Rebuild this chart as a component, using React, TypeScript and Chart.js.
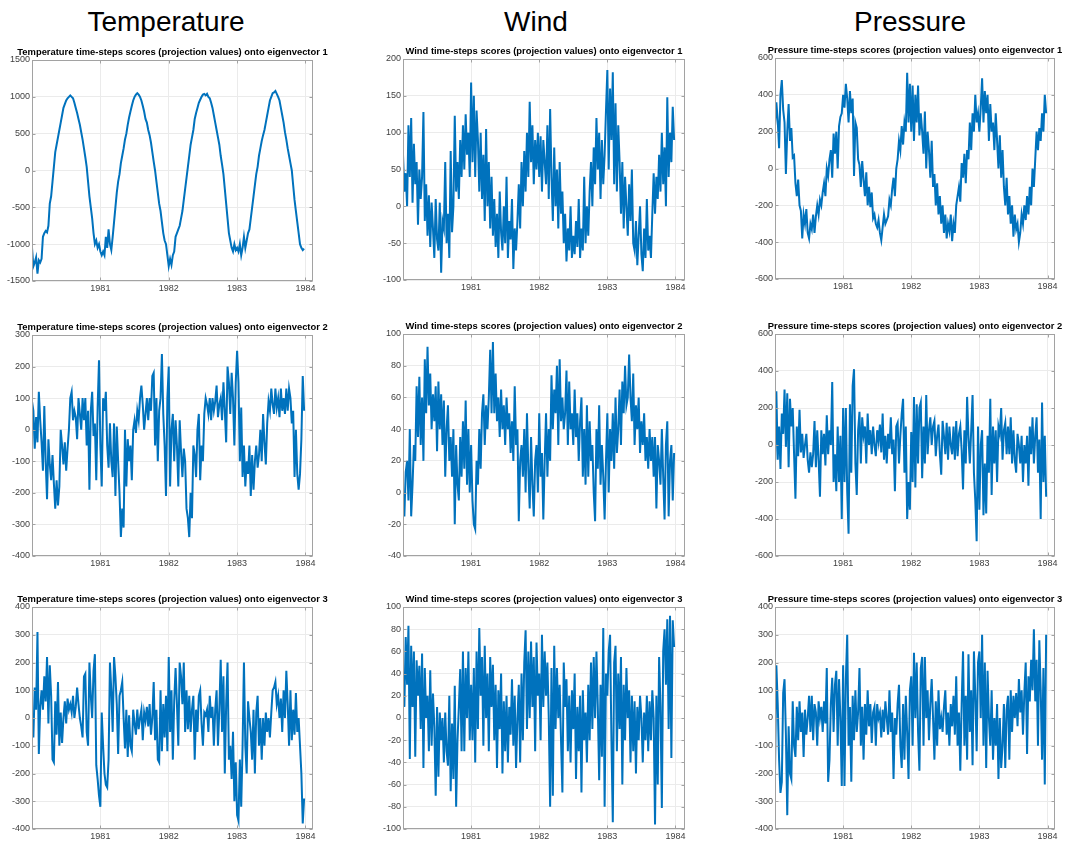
import React, { useEffect, useRef } from "react";
import { Chart, registerables } from "chart.js";

Chart.register(...registerables);

// ---------- data ----------
const START_YEAR = 1980;
const SAMPLES_PER_YEAR = 50;
const YEAR_TICKS = [1981, 1982, 1983, 1984];
const COLUMN_TITLES = ["Temperature", "Wind", "Pressure"];

const temperatureEv1 = [
  -1050, -1300, -1250, -1180, -1400, -1220, -1250, -1200, -900, -850, -820, -840, -750, -450, -350, -150, 50, 250, 350, 450, 550, 650, 750, 850, 900, 950, 980, 1000, 1020, 1000, 980, 920, 850, 780, 700, 620, 520, 420, 300, 180, 50, -150, -350, -500, -650, -850, -1000, -950, -1050, -1000,
  -1100, -1150, -1100, -1150, -900, -1050, -800, -1000, -1080, -900, -700, -500, -300, -150, -50, 100, 200, 300, 420, 500, 620, 720, 800, 880, 950, 1000, 1030, 1050, 1030, 1000, 950, 880, 800, 700, 650, 550, 480, 380, 250, 120, 0, -150, -300, -450, -550, -700, -850, -950, -1000, -1150,
  -1300, -1200, -1280, -1150, -1100, -900, -850, -800, -750, -650, -550, -400, -250, -100, 50, 200, 350, 450, 550, 700, 780, 850, 920, 960, 1000, 1030, 1040, 1020, 1040, 1000, 980, 920, 850, 750, 650, 550, 450, 350, 200, 80, -50, -250, -450, -650, -850, -950, -1050, -1100, -1000, -1080,
  -1050, -1100, -1000, -1150, -1050, -900, -1050, -950, -850, -800, -650, -500, -350, -200, -50, 50, 200, 300, 400, 480, 550, 650, 750, 850, 950, 1000, 1050, 1060, 1080, 1040, 1000, 950, 850, 750, 650, 520, 420, 300, 200, 100, 0, -200, -400, -550, -700, -850, -1000, -1050, -1080, -1060,
];

const windEv1 = [
  70, 20, 45, 0, 110, 40, 120, 5, 85, 30, 60, -25, 50, 10, 40, 128, -20, 30, -40, 15, -55, 5, -30, -70, 10, -45, -60, 5, -90, -20, -30, 60, -50, -10, -70, 75, -35, 0, 123, 20, 60, 10, 90, 40, 110, 50, 125, 70, 100, 40,
  168, 60, 150, 40, 130, 90, 20, 100, 10, 70, -20, 105, 0, 60, -30, 40, -40, 10, -55, -10, -70, 20, -35, -60, 0, -50, 40, -70, -20, -45, 10, -85, -30, -60, -20, 30, -30, 60, 0, 75, 20, 100, 40, 142, 60, 110, 30, 90, 50, 100,
  40, 95, 20, 90, 60, 30, 110, 10, 132, 40, -20, 80, 0, 50, -30, 60, -10, 20, -50, -10, -75, -30, -60, 0, -70, -40, -65, -20, -55, 10, -70, -30, -60, 40, -50, 0, -40, 20, 60, 0, 80, 30, 120, 50, 100, 10, 90, 30, 70, 130,
  185, 50, 160, 90, 182, 30, 140, 20, 110, 60, -10, 60, -30, 40, 0, -40, 30, -20, 50, -50, -60, -20, -80, -40, 0, -65, -88, -30, -70, 10, -60, -40, -70, -10, 45, -10, 40, 10, 70, 20, 100, 30, 80, 0, 148, 40, 100, 60, 135, 90,
];

const pressureEv1 = [
  230, 360, 260, 110, 400, 480, 320, 250, -30, 200, 350, 150, 220, 60, 70, -80, -150, -60, -200, -230, -380, -250, -300, -220, -350, -380, -300, -330, -250, -350, -260, -200, -250, -170, -200, -130, -80, -150, 0, -40, 50, 100, -50, 190, 80, 200, 0, 230, 280, 300,
  400, 330, 460, 380, 250, 420, 300, 380, -40, 250, 220, 50, 20, -100, 40, -60, -150, -20, -200, -100, -210, -130, -270, -250, -300, -320, -280, -350, -390, -320, -250, -300, -280, -260, -170, -200, -110, -50, -150, 0, 50, 150, 100, 230, 130, 250, 200, 520, 250, 460,
  200, 450, 150, 400, 250, 450, 180, 300, 200, 80, 310, 0, 200, 100, -50, 150, -100, -30, -200, -80, -250, -150, -300, -200, -350, -250, -380, -300, -340, -250, -395, -300, -350, -200, -150, -100, -180, 30, -50, 80, -80, 100, 50, 250, 100, 300, 200, 400, 250, 300,
  200, 330, 490, 250, 420, 300, 400, 150, 350, 200, 250, 100, 300, 150, 0, 180, -50, 100, -100, -200, -50, -250, -150, -300, -200, -370, -250, -330, -300, -400, -350, -250, -300, -200, -280, -150, -250, -100, -200, 0, -100, 50, 200, 100, 220, 150, 300, 200, 400, 300,
];

const temperatureEv2 = [
  90, 60, -60, 40, -40, 120, 30, -40, -130, 75, -100, -220, -30, -110, -160, -80, -170, -250, -160, -240, -180, 0, -50, -110, -40, -130, -60, 0, 100, 120, 30, 60, 40, -30, 100, 50, 0, 100, 30, 100, -50, 60, -190, 60, 120, -20, 20, -160, 70, 220,
  -50, -180, 100, 60, 120, -50, -120, 20, -100, -150, 20, -210, 10, -100, -200, -340, -250, -310, 0, -180, -30, -100, -50, -160, 0, 30, -10, 60, 30, 100, 140, 80, 0, 50, 100, 30, 100, 60, 170, 180, -50, 100, -100, 60, 100, 240, 50, -50, -210, 100,
  200, -180, 0, 50, -100, 30, -50, -180, 30, -70, -150, -60, -100, -250, -280, -340, -200, -280, -50, -80, -150, 0, 50, -160, -50, -100, 50, 100, 80, 50, 100, 30, 100, 60, 90, 140, 40, 80, 100, 30, 150, 60, -40, 200, 150, 50, 180, 100, -50, 150,
  250, 150, -100, 70, -150, -50, -180, -100, -140, -50, -210, -80, -190, -100, -50, -120, -80, 0, -100, 50, -40, -110, 20, 90, 60, 130, 80, 50, 130, 70, 100, 40, 130, 60, 100, 50, 130, 60, 130, 100, 20, 60, -150, 0, -140, -190, -140, -30, 170, 60,
];

const windEv2 = [
  0, -15, 13, 20, -5, 40, -15, 5, 30, 20, 67, 35, 73, 30, 60, 20, 84, 50, 92, 55, 75, 40, 62, 45, 67, 26, 70, 40, 62, 30, 58, 10, 40, 55, 20, 35, 10, 40, -20, 30, 5, -5, 35, 10, 45, 15, 58, 5, 40, 0,
  30, -5, -20, -23, 20, 5, 40, 15, 50, 62, 30, 55, 40, 60, 90, 50, 95, 50, 75, 45, 60, 35, 65, 40, 55, 30, 60, 40, 50, 25, 45, 20, 67, 30, 40, -18, 20, 30, 10, 40, 0, 50, 15, -10, 35, 5, -15, 20, 30, 0,
  50, 10, 25, -17, 20, 50, 10, 40, 20, 74, 40, 65, 50, 80, 30, 84, 45, 60, 40, 50, 77, 30, 70, 40, 50, 30, 65, 35, 50, 20, 45, 60, 10, 40, 5, 55, 10, 45, 20, 30, 0, -18, 40, 15, 55, 5, 30, 10, -17, 20,
  50, 0, 40, 20, 50, 15, 60, 25, 40, 65, 30, 70, 50, 80, 55, 60, 87, 60, 45, 75, 30, 55, 40, 60, 25, 45, 30, 50, 20, 35, 15, 40, 20, 35, 10, 35, -10, 30, 20, 5, 40, 10, -17, 30, 45, -15, 20, 30, -5, 25,
];

const pressureEv2 = [
  -100, 290, -80, 100, -130, 170, 60, 300, -10, 280, -120, 250, 100, 200, -50, -290, 100, -60, 190, -40, 60, -70, 0, 60, -80, -150, -40, -120, -50, 130, -120, 80, -80, -280, 80, -50, 60, -110, 160, -50, 80, 0, 340, -200, -50, -250, 100, -200, 50, -400,
  200, -200, 200, -250, -480, 220, -150, 320, 410, -100, -270, 80, 180, -100, 150, 50, 100, -100, 170, 0, 80, -50, 100, 0, -60, 80, 20, 110, -40, 170, -80, 50, -100, 60, -20, 150, -50, 30, -250, 100, 120, -100, 50, 170, 250, -150, 100, -400, -200, -350,
  70, -200, 260, -230, 220, -100, 200, 230, -180, 100, -100, 270, -50, 80, 150, 0, 100, 130, -60, 50, 110, -50, -160, 130, 50, -50, 120, -80, 100, 0, -50, 100, -80, 130, -60, 60, 100, -30, -240, 80, -100, 260, 40, -100, 80, 270, -150, -300, -520, 100,
  -350, 0, 80, -380, -100, -370, 50, -150, 250, -270, 100, -100, 80, -200, 100, 60, 200, -80, 80, 120, -50, 100, -50, 150, -100, 80, -80, -150, 60, 0, -100, 50, -200, 0, -100, 50, -220, 100, -50, 150, -100, 50, 150, -150, 30, -400, 230, -200, 50, -280,
];

const temperatureEv3 = [
  0, -70, 110, 30, 310, -130, 40, 100, 30, 150, 60, 220, -20, 190, 80, -150, -160, 60, -60, 130, -100, 20, -90, 0, 60, -20, 70, 30, 50, 20, 80, 0, 40, 110, 50, 0, -30, -70, 150, 160, -50, -100, 200, 80, 0, 170, 230, -170, -220, -280,
  -320, 20, -100, -200, -240, -250, -150, 200, 100, -50, 220, 150, 50, -130, 80, 100, 130, 0, -110, 30, -140, 10, -100, -120, 30, -20, -60, 30, -40, 0, 30, -80, 20, -10, 40, -30, 50, -60, 0, 130, -80, 30, -150, -160, 100, -120, 50, -70, 80, -120,
  220, -50, 100, -150, 60, 180, 50, -100, 200, 150, 50, 200, -50, 100, -40, 80, -50, 30, 80, -150, 30, -50, 80, 100, -20, -100, 20, 10, 30, -50, 80, 0, 40, -100, 30, 100, -100, 30, 210, -50, 150, -200, 50, 200, -150, -100, -220, -50, -300, -160,
  -350, -370, -150, -320, -100, 200, -100, -200, 60, 0, -50, -150, 30, -200, 20, 80, -100, 0, -150, 0, -100, 20, -50, 0, -70, 20, 100, 110, 130, 50, 80, 0, 70, -50, 100, 0, 170, 50, -100, 100, -80, 30, -60, 90, -50, 0, -100, -200, -380, -290,
];

const windEv3 = [
  40, 10, 73, 30, 83, -37, 65, 10, 60, -35, 52, 20, 47, -10, 58, -45, 45, 0, 20, -30, 43, -25, 22, -8, -70, 10, -53, 5, -20, 0, -40, 5, -30, -43, 20, -66, -5, -55, 29, -80, -20, 10, 44, -30, 60, -30, 45, 0, 60, -20,
  30, -20, 45, -40, 60, -10, 81, 20, 55, -25, 65, 0, 40, -30, 55, 10, 48, -20, 30, -45, 25, -10, 40, -50, 15, -30, 20, -40, 10, -15, 35, -25, 20, -45, 0, 30, -40, 40, -20, 50, 79, -10, 60, 0, 69, 10, 55, -30, 68, 20,
  40, -20, 75, 10, 60, 20, 50, 0, -80, 45, -70, 65, -10, 45, 0, 30, -20, -67, 50, 10, 35, -30, 20, -40, 25, -10, 40, -55, 10, -30, 20, -67, 25, -20, 5, -40, 30, -20, 50, -10, 55, 0, 60, 10, -56, 30, -35, 81, -80, 40,
  20, 60, 75, -20, -94, 50, 65, -30, 40, -10, 55, -60, 30, -20, 45, 0, 25, -40, 20, -30, 15, -50, 10, -20, 20, 0, -40, 5, -20, 20, -30, 15, -20, 25, 0, -96, 20, -60, 55, 10, -81, 60, 80, 30, 89, -10, 92, -36, 88, 64,
];

const pressureEv3 = [
  -200, 190, 50, -150, -270, -230, 90, 140, -60, -350, -30, -200, -220, 60, -100, -140, 40, -80, 60, -50, 20, -140, 30, -60, 0, 80, -50, 80, -80, 50, 20, -100, 60, 0, 40, -50, 60, -20, 180, -230, -150, 50, 145, -50, 120, 170, -100, 140, 0, -245,
  190, -245, 140, 300, -100, 40, -230, 80, -80, 100, -50, 20, 180, -100, 40, -150, 50, -60, 100, -30, 50, -90, 20, 40, -100, 50, 0, 20, -70, 30, -50, 60, 0, -60, 100, -50, 20, -220, 0, -60, 50, 120, -100, -180, 50, -150, 80, -50, -220, 100,
  150, -100, 235, 0, 200, -50, -190, 180, 220, -100, 220, 0, 100, -80, 50, 140, 0, -150, 60, -100, 100, -40, 0, -50, 40, 100, -60, 20, -100, 50, -30, 80, -60, 150, -100, 20, -190, 50, 240, -100, 80, -150, 230, -50, 100, -170, 240, 80, -120, 200,
  240, 0, 300, -100, 200, -180, 170, 0, -100, 100, -150, 0, -100, 50, -220, 0, -180, -100, 50, -180, 30, 80, -150, 100, -50, 80, 0, 90, -30, 140, 20, 100, -60, 90, 200, -130, 150, 60, 210, 100, 320, 60, 210, -100, 280, 100, -150, 180, -240, 300,
];

// ---------- styling / layout ----------
const LINE_COLOR = "#0072BD";
const GRID_COLOR = "#ebebeb";
const FRAME_COLOR = "#a2a2a2";
const TICK_TEXT = "#404040";
const FONT = "'Liberation Sans', Arial, Helvetica, sans-serif";
const PAD_L = 30;
const PAD_R = 30;
const PAD_T = 20;
const PAD_B = 20;
const TITLE_SIZE = 9.4;

type PanelSpec = {
  title: string;
  values: number[];
  yMin: number;
  yMax: number;
  yStep: number;
  xMax: number;
  left: number;
  top: number;
  right: number;
  bottom: number;
};

const titleOf = (name: string, k: number) =>
  `${name} time-steps scores (projection values) onto eigenvector ${k}`;

const PANELS: PanelSpec[] = [
  { title: titleOf("Temperature", 1), values: temperatureEv1, yMin: -1500, yMax: 1500, yStep: 500, xMax: 1984.11, left: 32, top: 60, right: 313, bottom: 281 },
  { title: titleOf("Wind", 1), values: windEv1, yMin: -100, yMax: 200, yStep: 50, xMax: 1984.14, left: 403, top: 59, right: 685, bottom: 280 },
  { title: titleOf("Pressure", 1), values: pressureEv1, yMin: -600, yMax: 600, yStep: 200, xMax: 1984.11, left: 775, top: 58, right: 1055, bottom: 279 },
  { title: titleOf("Temperature", 2), values: temperatureEv2, yMin: -400, yMax: 300, yStep: 100, xMax: 1984.11, left: 32, top: 335, right: 313, bottom: 556 },
  { title: titleOf("Wind", 2), values: windEv2, yMin: -40, yMax: 100, yStep: 20, xMax: 1984.14, left: 403, top: 334, right: 685, bottom: 556 },
  { title: titleOf("Pressure", 2), values: pressureEv2, yMin: -600, yMax: 600, yStep: 200, xMax: 1984.11, left: 775, top: 334, right: 1055, bottom: 556 },
  { title: titleOf("Temperature", 3), values: temperatureEv3, yMin: -400, yMax: 400, yStep: 100, xMax: 1984.11, left: 32, top: 607, right: 313, bottom: 829 },
  { title: titleOf("Wind", 3), values: windEv3, yMin: -100, yMax: 100, yStep: 20, xMax: 1984.14, left: 403, top: 607, right: 685, bottom: 829 },
  { title: titleOf("Pressure", 3), values: pressureEv3, yMin: -400, yMax: 400, yStep: 100, xMax: 1984.11, left: 775, top: 607, right: 1055, bottom: 829 },
];

const HEADER_CENTERS = [166, 536, 910];

const framePlugin = {
  id: "matlabFrame",
  afterDatasetsDraw(chart: any) {
    const { ctx, chartArea: a, scales } = chart;
    ctx.save();
    ctx.strokeStyle = FRAME_COLOR;
    ctx.lineWidth = 1;
    const l = Math.round(a.left) + 0.5;
    const t = Math.round(a.top) + 0.5;
    const r = Math.round(a.right) - 0.5;
    const b = Math.round(a.bottom) - 0.5;
    ctx.strokeRect(l, t, r - l, b - t);
    const len = 3;
    ctx.beginPath();
    for (const tk of scales.x.ticks) {
      const px = Math.round(scales.x.getPixelForValue(tk.value)) + 0.5;
      ctx.moveTo(px, b);
      ctx.lineTo(px, b - len);
      ctx.moveTo(px, t);
      ctx.lineTo(px, t + len);
    }
    for (const tk of scales.y.ticks) {
      const py = Math.round(scales.y.getPixelForValue(tk.value)) + 0.5;
      ctx.moveTo(l, py);
      ctx.lineTo(l + len, py);
      ctx.moveTo(r, py);
      ctx.lineTo(r - len, py);
    }
    ctx.stroke();
    ctx.restore();
  },
};

function Panel({ spec }: { spec: PanelSpec }) {
  const ref = useRef<HTMLCanvasElement | null>(null);
  const width = spec.right - spec.left + PAD_L + PAD_R;
  const height = spec.bottom - spec.top + PAD_T + PAD_B;

  useEffect(() => {
    if (!ref.current) return;
    const points = spec.values.map((v, i) => ({ x: START_YEAR + i / SAMPLES_PER_YEAR, y: v }));
    const tickFont = { family: FONT, size: 9 };
    const titleLine = TITLE_SIZE * 1.2;
    const chart = new Chart(ref.current, {
      type: "line",
      data: {
        datasets: [
          {
            data: points,
            borderColor: LINE_COLOR,
            backgroundColor: LINE_COLOR,
            borderWidth: 2,
            pointRadius: 0,
            tension: 0,
            fill: false,
            yAxisID: "y",
          },
        ],
      },
      options: {
        animation: false,
        responsive: false,
        maintainAspectRatio: false,
        devicePixelRatio: 1,
        layout: { padding: 0 },
        plugins: {
          legend: { display: false },
          tooltip: { enabled: false },
          title: {
            display: true,
            text: spec.title,
            color: "#000000",
            font: { family: FONT, size: TITLE_SIZE, weight: "bold", lineHeight: 1.2 },
            padding: { top: PAD_T - titleLine - 1.5, bottom: 1.5 },
          },
        },
        scales: {
          x: {
            type: "linear",
            min: START_YEAR,
            max: spec.xMax,
            afterBuildTicks: (s: any) => {
              s.ticks = YEAR_TICKS.map((value) => ({ value }));
            },
            afterFit: (s: any) => {
              s.height = PAD_B;
              s.paddingLeft = 0;
              s.paddingRight = 0;
            },
            ticks: {
              padding: 2,
              color: TICK_TEXT,
              font: tickFont,
              autoSkip: false,
              maxRotation: 0,
              callback: (v: any) => String(v),
            },
            grid: { color: GRID_COLOR, drawTicks: false, lineWidth: 1 },
            border: { display: false },
          },
          y: {
            type: "linear",
            position: "left",
            min: spec.yMin,
            max: spec.yMax,
            afterFit: (s: any) => {
              s.width = PAD_L;
              s.paddingTop = 0;
              s.paddingBottom = 0;
            },
            ticks: {
              stepSize: spec.yStep,
              padding: 2,
              color: TICK_TEXT,
              font: tickFont,
              callback: (v: any) => String(v),
            },
            grid: { color: GRID_COLOR, drawTicks: false, lineWidth: 1 },
            border: { display: false },
          },
          rightSpacer: {
            type: "linear",
            position: "right",
            display: true,
            min: 0,
            max: 1,
            afterFit: (s: any) => {
              s.width = PAD_R;
              s.paddingTop = 0;
              s.paddingBottom = 0;
            },
            ticks: { display: false },
            grid: { display: false, drawTicks: false },
            border: { display: false },
          },
        },
      },
      plugins: [framePlugin],
    } as any);
    return () => chart.destroy();
  }, [spec]);

  return (
    <canvas
      ref={ref}
      width={width}
      height={height}
      style={{
        position: "absolute",
        left: spec.left - PAD_L,
        top: spec.top - PAD_T,
        width,
        height,
      }}
    />
  );
}

export default function App() {
  return (
    <div
      style={{
        position: "absolute",
        left: 0,
        top: 0,
        width: 1066,
        height: 845,
        overflow: "hidden",
        background: "#ffffff",
      }}
    >
      {COLUMN_TITLES.map((t, i) => (
        <div
          key={t}
          style={{
            position: "absolute",
            left: HEADER_CENTERS[i] - 150,
            width: 300,
            top: 8,
            textAlign: "center",
            fontFamily: FONT,
            fontSize: 28,
            lineHeight: "28px",
            color: "#000",
          }}
        >
          {t}
        </div>
      ))}
      {PANELS.map((p) => (
        <Panel key={p.title} spec={p} />
      ))}
    </div>
  );
}
